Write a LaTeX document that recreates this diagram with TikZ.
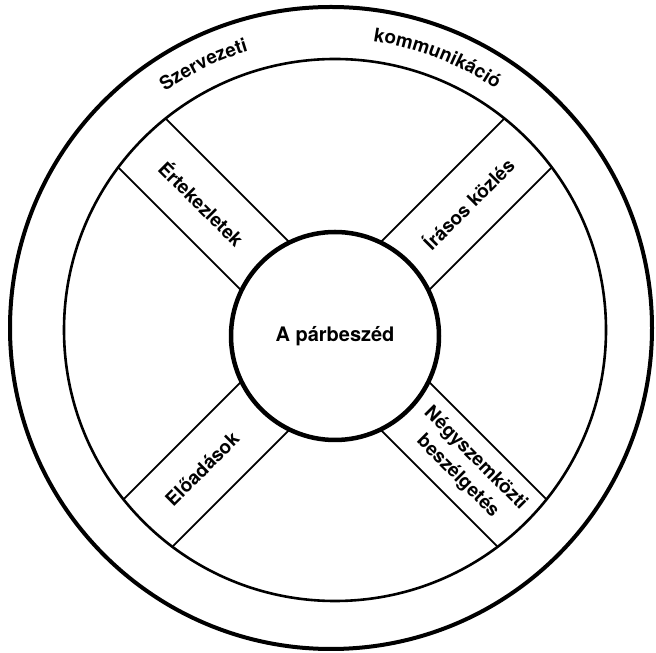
\documentclass[tikz,border=0pt]{standalone}
\usepackage{fontspec}
\setmainfont{TeX Gyre Heros}
\usetikzlibrary{calc,decorations.text}

\tikzset{
  outerline/.style={line width=4pt},
  ringline/.style={line width=2.6pt},
  spokeline/.style={line width=1.8pt},
  bandlabel/.style={font=\bfseries\fontsize{19}{25}\selectfont,align=center,inner sep=0pt},
  hubnode/.style={circle,draw,line width=4.5pt,fill=white,minimum size=208pt,
                  font=\bfseries\fontsize{20}{24}\selectfont},
}
\newcommand{\arcfont}{\bfseries\fontsize{19}{23}\selectfont}

\begin{document}
\begin{tikzpicture}[x=1pt,y=1pt]
  \useasboundingbox (0,0) rectangle (656,653);
  \coordinate (outerc) at (331,325);
  \coordinate (ringc) at (335,323);
  \coordinate (hub) at (335,317);

  % outer band
  \draw[outerline] (outerc) circle[radius=321];
  \draw[ringline] (ringc) circle[radius=271];
  \path[decorate,decoration={text along path,text align=center,
        text={|\arcfont|Szervezeti}}]
    ($(outerc)+(140:289)$) arc[start angle=140,end angle=91.6,radius=289];
  \path[decorate,decoration={text along path,text align=center,
        text={|\arcfont|kommunikáció}}]
    ($(outerc)+(93:290)$) arc[start angle=93,end angle=44,radius=290];

  % the four bands
  \begin{scope}
    \clip (ringc) circle[radius=270];
    \foreach \a in {45,135,225,315}{
      \draw[spokeline] ($(hub)+(\a+90:34)$) -- ++(\a:330);
      \draw[spokeline] ($(hub)+(\a-90:34)$) -- ++(\a:330);
    }
  \end{scope}

  \node[hubnode] (dialog) at (hub) {A párbeszéd};

  \node[bandlabel,rotate=-45] (meetings) at ($(hub)+(135:188)$) {Értekezletek};
  \node[bandlabel,rotate=45] (written) at ($(hub)+(45:188)$) {Írásos közlés};
  \node[bandlabel,rotate=45] (lectures) at ($(hub)+(225:188)$) {Előadások};
  \node[bandlabel,rotate=-45] (talks) at ($(hub)+(-45:186)$) {Négyszemközti\\beszélgetés};
\end{tikzpicture}
\end{document}
